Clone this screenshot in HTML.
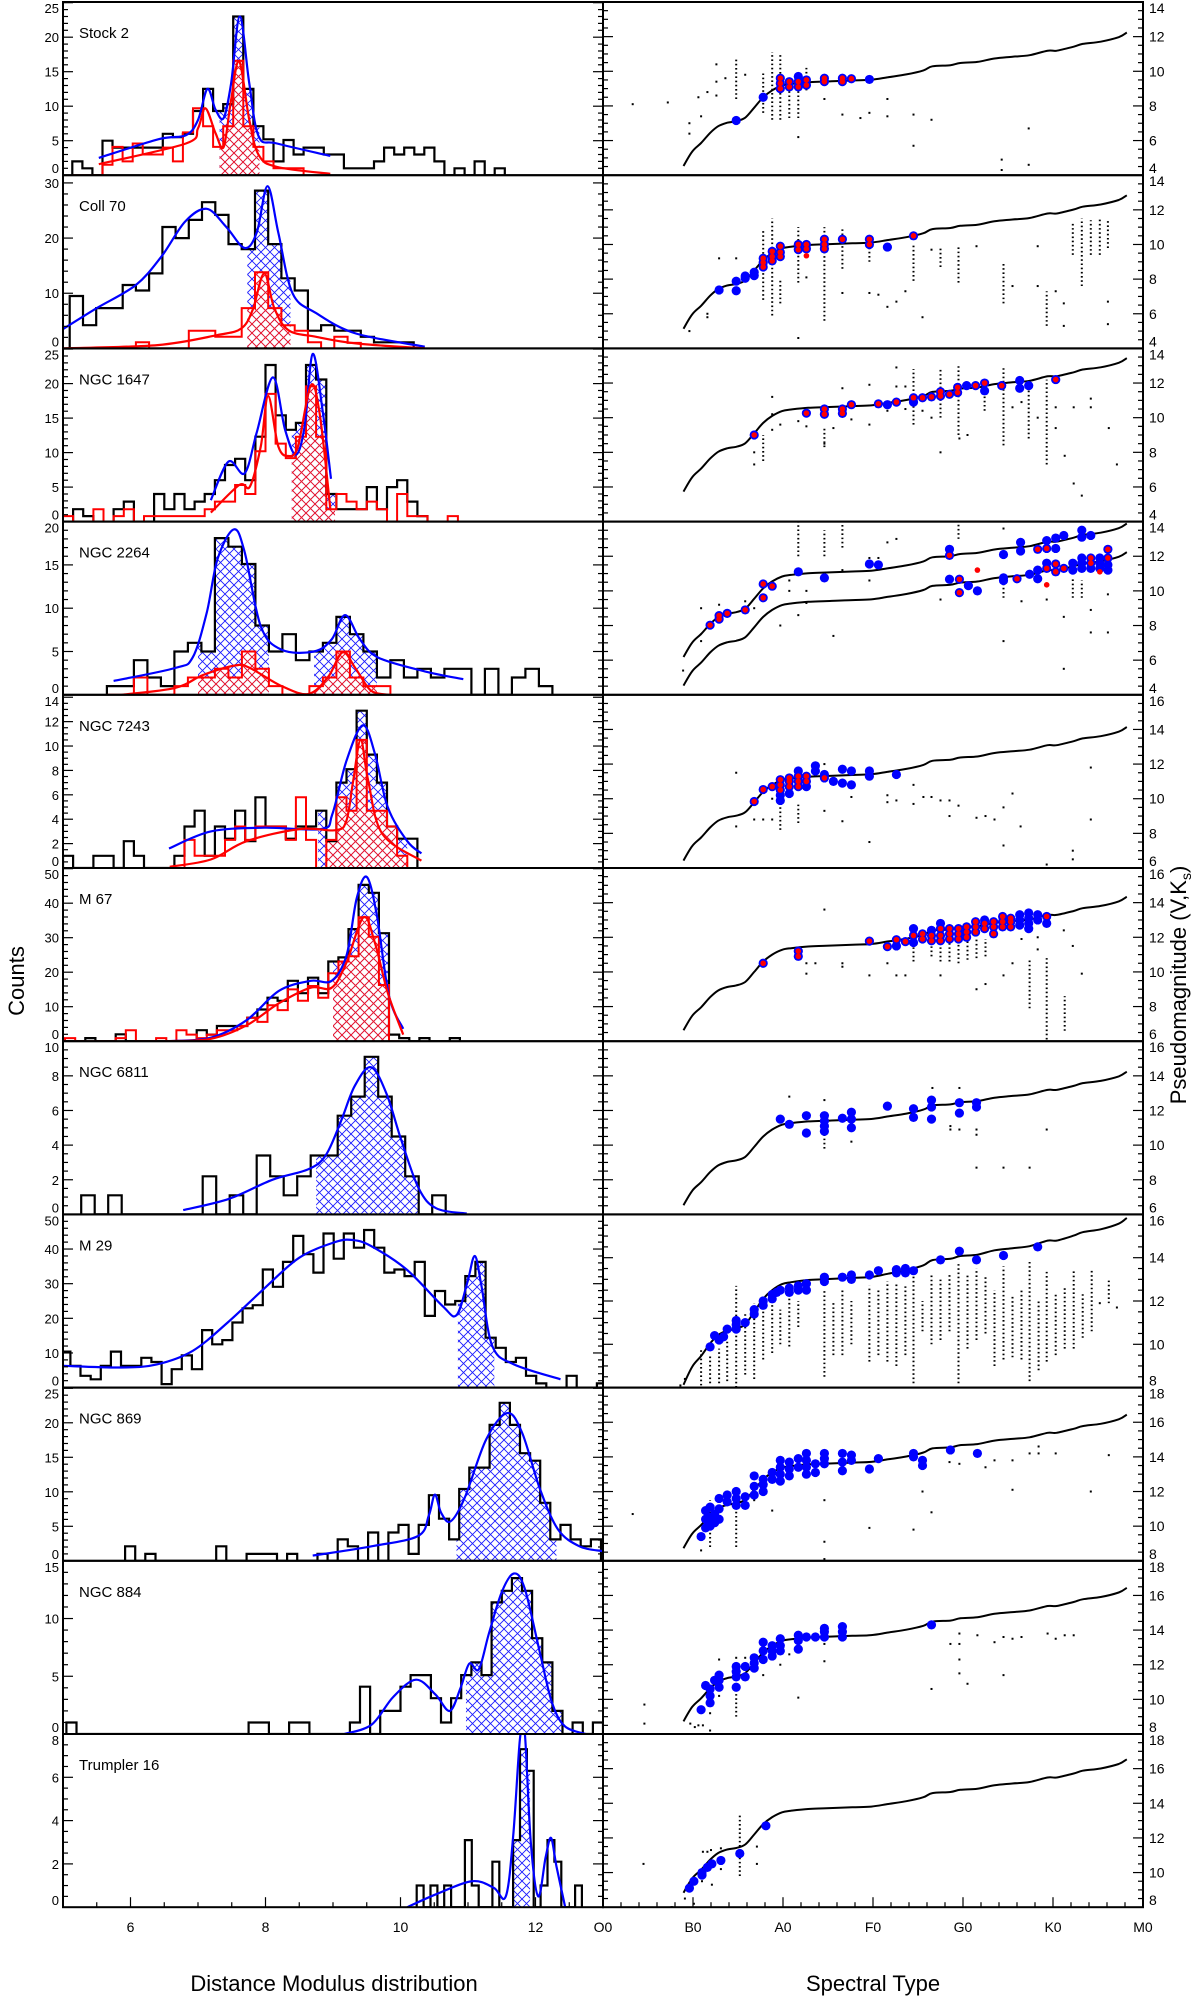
<!DOCTYPE html>
<html>
<head>
<meta charset="utf-8">
<style>
  html,body{margin:0;padding:0;background:#fff;}
  svg{display:block;font-family:"Liberation Sans",Arial,sans-serif;}
</style>
</head>
<body>
<svg id="fig" xmlns="http://www.w3.org/2000/svg" width="1200" height="1998" viewBox="0 0 1200 1998">
  <defs>
    <pattern id="hb" patternUnits="userSpaceOnUse" width="9" height="9">
      <path d="M0,0L9,9M9,0L0,9" stroke="#1a1aff" stroke-width="0.9" fill="none"/>
    </pattern>
    <pattern id="hr" patternUnits="userSpaceOnUse" width="9" height="9">
      <path d="M0,0L9,9M9,0L0,9" stroke="#ff1a1a" stroke-width="0.9" fill="none"/>
    </pattern>
  </defs>
  <rect x="0" y="0" width="1200" height="1998" fill="#fff"/>
  <text x="334" y="1991" font-size="22" text-anchor="middle">Distance Modulus distribution</text>
  <text x="873" y="1991" font-size="22" text-anchor="middle">Spectral Type</text>
  <text x="0" y="0" font-size="22" text-anchor="middle" transform="translate(24,981) rotate(-90)">Counts</text>
  <text x="0" y="0" font-size="22" text-anchor="middle" transform="translate(1186,985) rotate(-90)">Pseudomagnitude (V,K<tspan font-size="14" dy="5">s</tspan><tspan dy="-5">)</tspan></text>
</svg>
<script>
// ---------------- data ----------------
const clusterNames = ["Stock 2","Coll 70","NGC 1647","NGC 2264","NGC 7243","M 67","NGC 6811","M 29","NGC 869","NGC 884","Trumpler 16"];
const countMax = [25.1,31.4,25.1,20,14.2,50.2,10,50,25.1,15,8.0];
const countMajor = [5,10,5,5,2,10,2,10,5,5,2];
const countMinor = [1,2,1,1,0.5,2,0.5,2,1,1,0.5];
const histStart = [5.138,5.10,5.0,5.65,5.0,5.03,5.27,4.96,5.92,5.05,10.24];
const histWidth = [0.149,0.196,0.15,0.2,0.15,0.15,0.2,0.15,0.15,0.15,0.102];
const blackCounts = [
 [2,1,0,5,4,4,4,4,4,6,5.5,6,9.3,12.5,9.3,10.3,23,12.5,7.1,5.2,2,5.1,3,4,4,3,3,1,1,1,2,4,3,4,3,4,2,0,1,0,2,0,1],
 [9.5,4.2,7.3,7.3,11.5,10.5,13.6,22,20,23.3,26.5,24.2,18.9,18,28.6,18.9,12.7,10.5,3.2,4.2,3.2,3.2,2.1,1.1,1.1,1.1],
 [0,1.8,0.8,0,0,1.8,2.9,0,0,4,1.8,4,1.8,2.9,4,6,8.2,9.1,6,12.3,22.7,15.4,13.3,14.3,22.7,20.6,4,1.8,1.8,1.8,5,1.8,5,6,2.9,0.8,0],
 [1,1,4,2,1,5,6,5,18.1,17.1,15.1,8,5,7,4,5,6,9,7,5,2,4,2,3,2,3,3,0,3,0,2,3,1],
 [1,0,0,1,1,0,2.2,1,0,0,0,1,3.4,4.7,1,3.4,2.4,4.7,2.2,5.8,3.4,3.4,2.4,3.4,3.4,4.7,2.2,7,8.1,12.9,9.3,7,3.4,2.4,2.4],
 [0,0,0.9,0,0,2,0,0,0,0,0,0,0,3.2,1.9,4.4,4.4,4.4,6.8,9.2,12.6,11.7,17.5,13.9,18.4,13.9,23.1,24.3,32.5,45.3,43,31.3,1.9,0.9,0,0.9,0,0,0.9],
 [1.1,0,1.1,0,0,0,0,0,0,2.2,0,1.1,0,3.4,2.2,1.1,2.2,3.4,3.4,5.7,6.8,9.1,6.8,4.5,2.2,0,1.1],
 [10.4,6.3,3.4,2.4,6.3,10.4,6.3,6.3,8.6,7.4,1,5.3,9.3,5.3,16.6,12.5,13.7,18.8,22.9,23.8,34.1,29.1,36.3,43.8,38.5,33.2,44.5,37.2,44.5,40.4,45.5,40.4,33.2,34.1,32.2,36.3,20.7,27.9,24,25,32.2,36.3,14.4,11.5,7.4,8.6,3.4,1.2,0,0,3.4,0,0,1.2],
 [2.1,0,1,0,0,0,0,0,0,2.1,0,0,1,1,1,0,1,0,0,1,0,3.1,2.1,0,4.1,0,4.1,5.2,1,5.2,9.5,6.1,3.1,10.4,13.5,13.5,19.7,22.9,19.7,15.6,14.5,8.4,3.1,5.2,3.1,2.1,3.1],
 [1,0,0,0,0,0,0,0,0,0,0,0,0,0,0,0,0,0,1,1,0,0,1,1,0,0,0,0,1,4.1,0,2,2,4.1,5.1,5.1,3.1,1,3.1,5.1,6.2,5.1,11.4,12.4,13.5,12.4,8.3,6.2,2,0,1,0,1],
 [1,0,1,0,1,0,0,3.1,1,0,0,2.1,0,0,3.1,7.3,6.3,0,1,3.1,2.1,0,0,1]
];
const redCounts = [
 [0,0,0,1.5,4.1,2,4.6,3,3,4,2,6.2,9.7,7.1,4.1,7.1,16.6,7.1,4.1,2,1,1,1],
 [0,0,0,0,0,1.1,0,0,0,3.2,3.2,2.1,2.1,7.3,13.8,7.3,4.2,3.2,1.1,0,2.1,1],
 [0.8,0,0,1.8,0,0.8,1.8,0,0.8,0.8,0.8,0.8,0.8,0.8,1.8,2.9,2.9,5.3,4,10.2,18.5,11.3,9.2,12.3,19.6,12.3,1.8,4,2.9,1.8,2.9,1.8,0,4,0.8,0.8,0,0,0.8],
 [0,0,2,0,0,1,2,2,3,2,5,3,1,0,0,1,2,5,2,1,1],
 [0,0,0,0,0,0,0,0,0,0,0,0,2.3,1,1,1,2.3,3.4,2.3,3.4,3.4,3.4,2.3,5.8,2.3,0,2.3,5.8,4.7,10.5,4.7,4.7,3.4,1],
 [0.9,0,0,0,0,0.9,3.2,0,0,0.9,0,3.2,1.9,0.9,1.9,3.2,3.2,4.4,6.8,5.6,10.4,9,15,11.7,16,12.6,19.7,23.1,24.6,35.9,30.3,16.3,0],
 null,null,null,null,null
];
const hatchRanges = [[[7.32,7.91]],[[7.73,8.37]],[[8.39,9.03]],[[7.0,8.05],[8.72,9.65]],[[8.78,10.1]],[[9.0,9.83]],[[8.75,10.27]],[[10.85,11.39]],[[10.83,12.31]],[[10.97,12.4]],[[11.64,11.92]]];
const blueCurves = [
 [[5.53,2.5],[6.41,5.2],[6.82,5.8],[7.0,8],[7.14,12.5],[7.26,9.5],[7.38,8.3],[7.49,13.3],[7.62,23],[7.76,13.3],[7.9,5.6],[8.17,4.6],[8.96,2.8]],
 [[5.0,3.5],[5.5,7.3],[6.08,11.5],[6.46,16.7],[6.81,23],[7.13,25.3],[7.42,22],[7.69,18.2],[7.87,21],[8.03,29.4],[8.19,21],[8.4,10],[8.75,6.4],[9.34,2.7],[10.36,0.3]],
 [[7.19,3.1],[7.45,8.7],[7.69,7],[7.87,12.9],[8.11,20.9],[8.29,13.3],[8.45,9.7],[8.58,13.8],[8.7,24.3],[8.85,15.8],[8.97,6.2]],
 [[5.75,1.6],[6.66,3.1],[6.92,4.3],[7.13,9.5],[7.29,15.7],[7.53,19.1],[7.69,16.5],[7.93,7.9],[8.24,5.2],[8.72,5],[8.98,6.4],[9.18,9.2],[9.4,6.4],[9.67,4.3],[10.36,2.7],[10.93,1.8]],
 [[6.57,1.6],[7.19,3],[7.98,3.3],[8.83,3.2],[8.99,4.4],[9.2,8.8],[9.44,11.7],[9.62,9.4],[9.81,5],[10.1,2.2],[10.31,1.2]],
 [[6.55,0],[7.19,1],[7.72,6.1],[8.2,14.6],[8.67,17.5],[8.98,17.5],[9.2,24.8],[9.35,41.3],[9.5,47.6],[9.65,36.4],[9.83,13.1],[10.04,3.6]],
 [[6.78,0.25],[7.46,0.9],[8.1,2],[8.63,2.6],[8.89,3.4],[9.11,5.3],[9.32,7.4],[9.56,8.5],[9.79,7],[10.01,4.3],[10.27,1.5],[10.53,0.35],[10.98,0.05]],
 [[5.0,6.3],[5.86,5.8],[6.39,6.7],[6.92,10.6],[7.44,18.8],[7.97,28.4],[8.5,37.5],[9.03,42],[9.29,42.6],[9.56,40.9],[10.09,34.1],[10.62,23.6],[10.83,20.9],[10.99,30.3],[11.1,38],[11.2,29.3],[11.36,12],[11.68,6.7],[12.37,2.4]],
 [[8.7,0.75],[9.57,2.1],[10.26,3.6],[10.42,6.6],[10.51,9.6],[10.6,7],[10.74,5.7],[10.95,9.1],[11.27,17.6],[11.58,21.4],[11.8,18.6],[12.06,10.6],[12.33,4.6],[12.65,2.1],[12.99,1.4]],
 [[9.17,0],[9.57,0.8],[9.89,3.2],[10.23,4.7],[10.52,3.4],[10.73,2],[10.89,4],[11.02,6.1],[11.16,5.6],[11.31,8.7],[11.5,12.3],[11.68,13.9],[11.84,12.6],[12.06,7.2],[12.24,2.8],[12.43,0.7],[12.74,0]],
 [[10.1,0],[10.53,0.6],[11.06,1.2],[11.38,0.9],[11.56,0.5],[11.67,3.3],[11.77,7.8],[11.84,8.1],[11.93,3],[12.04,0.5],[12.15,2.3],[12.23,3.2],[12.31,1.9],[12.44,0]]
];
const redCurves = [
 [[5.53,1.6],[6.82,4.6],[7.0,6.8],[7.11,9.7],[7.26,6.1],[7.38,4.1],[7.49,10.9],[7.61,16.5],[7.76,8],[7.9,2.9],[8.17,1.2],[8.96,0.2]],
 [[5.0,0],[6.4,0.6],[7.28,2.4],[7.64,3.6],[7.81,7],[7.98,13.6],[8.13,7.3],[8.34,3.3],[8.75,2.1],[9.34,0.9],[10.36,0]],
 [[7.19,1.3],[7.61,5.3],[7.77,5.1],[7.93,10.9],[8.04,18.2],[8.19,10.9],[8.34,9.5],[8.48,10.9],[8.67,19.7],[8.8,15.8],[8.96,1.9]],
 [[5.87,0],[6.66,0.8],[7.08,2.3],[7.56,3.4],[7.77,3.1],[8.24,1],[8.64,0.1],[8.93,2.1],[9.14,4.9],[9.33,3.1],[9.56,0.5],[9.83,0]],
 [[6.58,0.1],[7.19,0.7],[7.72,2.2],[8.51,3.2],[9.04,3.1],[9.2,3.9],[9.3,7.2],[9.41,10.5],[9.52,7.2],[9.73,2.8],[10.31,0.6]],
 [[6.55,0],[7.19,0.7],[7.72,4.6],[8.2,11],[8.67,15.5],[8.98,15.5],[9.2,22.8],[9.45,35.9],[9.62,28.6],[9.81,14.1],[10.04,1.9]],
 null,null,null,null,null
];
const magRanges = [[4,14],[4,14],[4,14],[4,14],[6,16],[6,16],[6,16],[8,16],[8,18],[8,18],[8,18]];
const refCurveSp = [8.94,9.92,10.9,11.9,12.8,13.8,14.8,15.8,16.8,17.8,18.8,19.9,20.9,22.8,24.8,27.7,29.8,31.7,33.7,35.6,36.6,38.6,39.7,41.6,43.5,45.5,47.4,49.4,50.4,52.3,53.3,55.3,57.3,58.2];
const refCurveMag = [4.53,5.37,5.86,6.44,6.83,7.03,7.12,7.32,7.9,8.5,8.9,9.18,9.27,9.37,9.41,9.47,9.51,9.66,9.82,10.05,10.29,10.35,10.48,10.54,10.74,10.84,10.93,11.19,11.19,11.42,11.58,11.71,11.97,12.24];
const curveOffsets = [[0],[0.6],[1.2],[0,1.65],[1.9],[2.1],[2.0],[3.6],[4.2],[4.2],[4.3]];
const bluePoints = [
 [[14.8,7.16,0],[17.8,8.5,0],[19.7,9.0,1],[19.7,9.3,1],[19.7,9.6,1],[20.7,9.1,1],[20.7,9.4,1],[21.7,9.1,1],[21.7,9.4,1],[21.7,9.7,0],[22.6,9.2,1],[22.6,9.5,1],[24.6,9.4,1],[24.6,9.6,1],[26.6,9.4,1],[26.6,9.6,1],[27.6,9.57,1],[29.6,9.53,0]],
 [[12.9,7.37,0],[14.8,7.88,0],[14.8,7.33,0],[15.8,8.18,0],[15.8,8.05,0],[16.8,8.4,0],[16.8,8.2,0],[17.8,9.2,1],[17.8,8.7,1],[17.8,8.95,1],[18.8,9.6,1],[18.8,9.3,1],[18.8,9.05,1],[19.7,9.9,1],[19.7,9.55,1],[19.7,9.3,1],[21.7,10.0,1],[21.7,9.7,1],[22.6,10.0,1],[22.6,9.75,1],[24.6,10.3,1],[24.6,10.0,1],[24.6,9.75,1],[26.6,10.3,1],[29.6,10.3,1],[29.6,10.0,1],[31.6,9.85,0],[34.5,10.5,1]],
 [[16.8,9.0,1],[22.6,10.26,1],[24.6,10.5,1],[24.6,10.2,1],[26.6,10.5,1],[26.6,10.25,1],[27.6,10.75,1],[30.6,10.8,1],[31.6,10.75,0],[32.6,10.9,1],[34.5,11.15,1],[34.5,10.9,0],[35.5,11.15,1],[36.5,11.2,1],[37.5,11.5,1],[37.5,11.25,1],[38.5,11.35,1],[39.4,11.75,1],[39.4,11.45,1],[40.4,11.85,0],[41.4,11.85,1],[42.4,12.0,1],[42.4,11.55,0],[44.3,11.85,1],[46.3,12.15,0],[46.3,11.7,0],[47.3,11.85,0],[50.3,12.2,1]],
 [[11.9,8.02,1],[12.9,8.57,1],[12.9,8.37,1],[13.8,8.7,1],[15.8,8.9,1],[17.8,10.4,1],[17.8,9.6,1],[18.8,10.27,1],[21.7,11.1,0],[24.6,10.75,0],[29.6,11.55,0],[30.6,11.5,0],[38.5,12.4,0],[38.5,12.05,1],[38.5,10.67,0],[39.6,10.67,1],[39.6,9.9,1],[40.6,10.3,0],[41.6,10.0,0],[44.5,12.1,0],[44.5,10.6,0],[44.5,10.75,0],[46,10.7,1],[46.4,12.8,0],[46.4,12.3,0],[47.4,10.96,0],[48.3,12.4,1],[48.3,11.2,0],[48.3,10.7,0],[49.3,12.9,0],[49.3,12.45,1],[49.3,11.3,1],[49.3,11.6,0],[50.3,13.05,0],[50.3,12.45,0],[50.3,11.55,1],[50.3,11.1,1],[51.2,13.2,0],[51.2,11.3,1],[52.2,11.2,0],[52.2,11.6,0],[53.2,13.1,0],[53.2,13.5,0],[53.2,11.3,0],[53.2,11.6,0],[53.2,11.9,0],[54.2,13.2,0],[54.2,11.3,0],[54.2,11.6,1],[54.2,11.9,1],[55.2,11.3,0],[55.2,11.6,0],[55.2,11.9,0],[56.1,11.2,0],[56.1,11.5,0],[56.1,11.9,1],[56.1,12.4,1]],
 [[16.8,9.84,1],[17.8,10.53,1],[18.8,10.7,1],[19.7,9.9,0],[19.7,10.2,0],[19.7,10.5,1],[19.7,10.8,1],[19.7,11.1,1],[20.7,10.3,0],[20.7,10.7,1],[20.7,11.0,1],[20.7,11.2,1],[21.7,10.7,1],[21.7,11.0,1],[21.7,11.3,1],[21.7,11.6,0],[22.6,10.7,0],[22.6,11.0,1],[22.6,11.3,1],[23.6,11.6,0],[23.6,11.9,0],[24.6,11.2,1],[24.6,11.4,0],[25.6,11.0,0],[26.6,11.7,0],[26.6,10.9,0],[27.6,11.6,0],[27.6,10.8,0],[29.6,11.6,0],[29.6,11.3,0],[32.6,11.4,0]],
 [[17.8,10.5,1],[21.7,11.2,1],[21.7,10.9,1],[29.6,11.78,1],[31.6,11.46,1],[32.6,11.86,1],[32.6,11.5,0],[33.6,11.75,1],[34.5,11.7,0],[34.5,12.1,1],[34.5,12.5,0],[35.5,11.9,1],[35.5,12.2,1],[36.5,11.8,1],[36.5,12.1,1],[36.5,12.4,0],[37.5,11.8,1],[37.5,12.1,1],[37.5,12.5,1],[37.5,12.8,0],[38.5,11.9,1],[38.5,12.2,1],[38.5,12.5,1],[39.5,11.9,1],[39.5,12.2,1],[39.5,12.5,1],[40.4,12.0,1],[40.4,12.3,1],[40.4,12.6,1],[41.4,12.3,1],[41.4,12.6,1],[41.4,12.9,1],[42.4,12.5,1],[42.4,12.8,1],[42.4,13.0,0],[43.4,12.2,1],[43.4,12.6,1],[43.4,12.9,1],[44.4,12.6,1],[44.4,12.9,1],[44.4,13.2,1],[45.3,12.6,1],[45.3,12.9,1],[45.3,13.1,1],[46.3,12.7,0],[46.3,13.0,0],[46.3,13.3,0],[47.3,12.5,0],[47.3,12.8,0],[47.3,13.1,0],[47.3,13.4,0],[48.3,13.0,0],[48.3,13.3,0],[49.3,12.8,0],[49.3,13.2,1]],
 [[19.7,11.5],[20.7,11.2],[22.6,11.7],[22.6,10.7],[24.6,11.7],[24.6,11.4],[24.6,11.1],[24.6,10.8],[26.6,11.55],[27.6,11.9],[27.6,11.5],[27.6,11.0],[31.6,12.25],[34.5,12.1],[34.5,11.6],[36.5,12.6],[36.5,12.2],[36.5,11.5],[39.6,12.45],[39.6,11.85],[41.5,12.45],[41.5,12.2]],
 [[11.9,9.88],[12.4,10.4],[12.9,10.2],[13.4,10.35],[13.8,10.7],[14.8,10.7],[14.8,10.9],[14.8,11.1],[15.8,11.0],[16.8,11.4],[16.8,11.6],[17.8,12.0],[17.8,11.8],[18.8,12.3],[18.8,12.1],[19.3,12.4],[19.7,12.5],[20.7,12.6],[20.7,12.4],[21.7,12.7],[21.7,12.5],[22.6,12.8],[22.6,12.5],[24.6,12.9],[24.6,13.1],[26.6,13.1],[27.6,13.0],[27.6,13.2],[29.6,13.2],[30.6,13.4],[32.6,13.3],[32.6,13.45],[33.6,13.3],[33.6,13.5],[34.5,13.4],[37.5,13.9],[39.6,14.3],[41.5,13.9],[44.5,14.1],[48.3,14.5]],
 [[10.9,9.4],[11.4,9.9],[11.4,10.4],[11.4,10.9],[11.9,10.0],[11.9,10.5],[11.9,11.1],[12.4,10.2],[12.4,10.7],[12.9,10.4],[12.9,11.0],[12.9,11.6],[13.8,11.4],[13.8,11.8],[14.8,11.2],[14.8,11.6],[14.8,12.0],[15.8,11.2],[15.8,11.7],[16.8,11.8],[16.8,12.3],[16.8,12.9],[17.8,12.0],[17.8,12.4],[17.8,12.7],[18.8,12.7],[18.8,13.1],[19.7,12.6],[19.7,13.0],[19.7,13.4],[19.7,13.8],[20.7,12.9],[20.7,13.3],[20.7,13.7],[21.7,13.4],[21.7,13.9],[22.6,13.0],[22.6,13.4],[22.6,13.8],[22.6,14.2],[23.6,13.1],[23.6,13.6],[24.6,13.6],[24.6,13.9],[24.6,14.2],[26.6,13.2],[26.6,13.7],[26.6,14.2],[27.6,13.8],[27.6,14.1],[29.6,13.3],[30.6,13.9],[34.5,14.0],[34.5,14.2],[35.5,13.5],[35.5,13.8],[38.6,14.4],[41.6,14.2]],
 [[10.9,9.4],[11.4,10.8],[11.9,9.8],[11.9,10.2],[11.9,10.6],[12.4,11.1],[12.9,10.7],[12.9,11.1],[12.9,11.4],[14.8,10.7],[14.8,11.3],[14.8,11.6],[14.8,11.9],[15.8,11.3],[15.8,11.9],[16.8,11.8],[16.8,12.1],[16.8,12.4],[17.8,12.3],[17.8,12.8],[17.8,13.3],[18.8,12.5],[18.8,12.8],[18.8,13.1],[19.7,12.8],[19.7,13.1],[19.7,13.5],[21.7,12.9],[21.7,13.4],[21.7,13.7],[22.6,13.6],[23.6,13.6],[24.6,13.6],[24.6,13.9],[24.6,14.1],[26.6,13.6],[26.6,13.9],[26.6,14.2],[36.5,14.3]],
 [[9.6,9.1],[10.1,9.5],[11.0,10.0],[11.0,9.85],[11.6,10.3],[12.1,10.5],[13.1,10.7],[15.2,11.1],[18.1,12.7]]
];
const redOnlyPoints = [[],[[22.6,9.35]],[],[[41.6,11.2],[49.3,10.35],[55.2,11.1]],[],[],[],[],[],[],[]];
const dotColumns = [
 [[14.8,8.4,10.8],[17.8,7.6,10.0],[18.8,7.2,11.1],[19.7,7.2,11.0],[20.7,7.3,9.0],[21.7,7.3,9.5],[22.6,8.9,10.2]],
 [[17.8,6.8,10.8],[18.8,5.9,11.5],[19.7,6.6,8.0],[21.7,7.8,11.0],[24.6,5.6,11.0],[26.6,8.6,11.0],[29.6,9.0,10.4],[34.5,7.9,10.0],[37.5,8.7,9.8],[39.5,7.8,9.9],[44.5,6.6,9.0],[49.3,5.3,7.3],[52.2,9.4,11.2],[53.2,7.6,11.5],[54.2,9.4,11.4],[55.2,9.4,11.5],[56.1,9.8,11.5]],
 [[17.8,7.5,9.0],[24.6,8.3,9.4],[34.5,9.6,12.8],[37.5,10.0,12.8],[39.5,9.0,13.0],[42.4,10.4,12.3],[44.5,8.4,12.9],[47.3,8.8,11.8],[49.3,7.3,12.2]],
 [[21.7,12.0,14.0],[39.5,13.0,14.0],[24.6,12.0,13.5],[26.6,12.5,14.0],[44.5,9.6,10.6],[52.2,9.6,10.7],[53.2,9.6,10.6]],
 [[19.7,8.2,10.4],[21.7,8.6,9.7]],
 [[34.5,10.6,12.5],[36.5,10.9,12.4],[37.5,10.6,12.4],[38.5,10.6,12.3],[39.5,10.5,12.2],[40.5,10.7,12.0],[41.5,10.8,12.0],[42.5,10.9,11.9],[47.4,7.9,10.8],[49.3,6.1,10.9],[51.3,6.6,8.6]],
 [[24.6,9.8,11.3]],
 [[10.9,8.1,9.8],[11.9,8.2,9.5],[12.9,8.2,9.8],[13.8,8.3,10.2],[14.8,8.0,12.7],[15.8,8.6,11.5],[16.8,8.4,11.9],[17.8,9.3,12.0],[18.8,9.6,12.4],[19.7,10.0,11.6],[20.7,9.9,12.2],[21.7,10.8,12.0],[24.6,8.5,12.5],[25.6,9.5,12.0],[26.6,9.5,12.6],[27.6,10.0,12.0],[29.6,9.2,12.7],[30.6,9.5,12.6],[31.6,9.2,12.9],[32.6,9.0,12.8],[33.6,9.5,12.7],[34.5,8.2,13.6],[35.5,10.6,12.0],[36.5,10.0,13.2],[37.5,10.2,13.1],[38.5,10.6,13.2],[39.5,8.2,13.8],[40.5,9.8,13.2],[41.5,10.2,13.5],[42.5,10.5,13.2],[43.5,9.0,12.5],[44.5,9.3,13.6],[45.5,9.4,12.3],[46.5,9.3,12.5],[47.4,8.3,13.8],[48.4,8.8,12.0],[49.3,9.2,13.4],[50.3,9.5,12.4],[51.3,9.8,12.6],[52.3,9.8,13.4],[53.3,10.3,12.4],[54.3,10.6,13.4],[56.2,11.9,13.0]],
 [[14.8,8.8,11.9],[11.9,8.8,11.5]],
 [[14.8,9.0,10.5]],
 [[15.2,9.8,13.4]]
];
const dotSingles = [
 [[3.3,8.1],[7.2,8.2],[9.6,6.4],[9.6,7.0],[10.6,8.5],[10.9,7.4],[11.6,8.8],[12.6,9.4],[12.6,8.6],[12.6,10.4],[13.6,9.6],[15.8,9.8],[21.7,6.2],[24.6,8.4],[26.6,7.5],[28.6,7.3],[29.6,7.6],[31.6,8.4],[31.6,7.4],[34.5,7.5],[34.5,5.7],[36.5,7.2],[44.3,4.9],[44.3,4.3],[47.3,6.7],[47.3,4.6]],
 [[9.6,5.0],[11.6,5.8],[11.6,6.0],[12.9,9.2],[14.8,9.2],[21.7,4.6],[22.6,8.1],[26.6,7.2],[29.6,7.2],[30.6,7.1],[31.6,6.4],[32.6,6.7],[33.6,7.3],[35.5,5.8],[36.5,9.7],[41.5,9.9],[45.5,7.6],[48.3,7.6],[50.3,7.3],[51.2,6.6],[51.2,5.3],[56.1,6.7],[56.1,5.4],[48.3,9.9]],
 [[16.8,8.0],[16.8,7.3],[18.8,9.3],[18.8,10.2],[18.8,11.2],[19.7,9.6],[21.7,9.8],[22.6,9.5],[24.6,8.5],[25.6,9.4],[26.6,10.2],[26.6,11.7],[27.6,9.9],[29.6,9.6],[29.6,11.9],[31.6,10.4],[32.6,12.9],[32.6,11.8],[33.6,10.5],[33.6,11.8],[35.5,10.4],[36.5,10.0],[37.5,8.0],[39.6,8.8],[40.5,9.0],[45.5,10.6],[46.5,10.9],[48.3,10.0],[50.3,10.6],[50.3,9.4],[51.3,7.8],[52.3,10.6],[52.3,6.2],[53.2,5.5],[54.2,11.1],[54.2,10.6],[56.2,9.4],[57.1,7.3]],
 [[8.9,5.4],[10.9,9.0],[10.9,7.1],[12.9,9.2],[15.8,9.4],[16.8,9.0],[18.8,10.2],[19.7,8.0],[20.7,10.0],[20.7,10.6],[22.6,10.0],[21.7,8.6],[22.6,9.3],[25.6,7.4],[26.6,11.2],[29.6,10.6],[29.6,11.9],[30.6,11.9],[31.6,12.8],[32.6,13.0],[37.5,9.5],[44.5,7.1],[44.5,13.6],[46.5,9.4],[49.3,9.5],[51.2,5.5],[51.2,8.5],[54.2,8.9],[54.2,7.6],[56.1,7.6],[56.1,9.8]],
 [[14.8,11.5],[14.8,8.4],[16.8,8.8],[17.8,8.8],[18.8,8.8],[18.8,10.0],[24.6,9.3],[24.6,12.0],[26.6,8.7],[27.6,10.1],[29.6,7.5],[31.6,10.2],[31.6,9.8],[32.6,9.9],[34.5,9.7],[34.5,10.8],[35.6,10.1],[36.5,10.1],[37.5,9.9],[38.5,9.9],[38.5,9.0],[39.5,9.6],[41.5,8.9],[42.5,9.0],[43.5,8.8],[44.5,9.5],[44.5,7.3],[45.5,10.3],[46.4,8.4],[47.4,6.0],[49.3,6.2],[52.2,6.5],[52.2,7.0],[54.2,11.8],[54.2,8.8]],
 [[24.6,13.6],[22.6,10.5],[22.6,9.9],[23.6,10.5],[26.6,10.5],[26.6,10.3],[29.6,9.8],[31.6,10.5],[32.6,9.8],[33.6,9.8],[37.5,9.8],[41.5,9.0],[42.5,9.3],[44.5,9.8],[45.5,10.5],[46.5,11.9],[48.3,11.3],[48.3,12.0],[52.2,11.5],[53.2,9.9],[51.2,12.4]],
 [[20.7,12.8],[24.6,12.6],[27.6,10.2],[38.6,11.1],[38.6,10.9],[39.6,13.3],[39.6,10.9],[41.5,10.6],[41.5,10.9],[41.5,8.7],[44.5,8.7],[47.4,8.7],[49.3,10.9],[36.6,13.3]],
 [[9.1,8.4],[8.6,8.1],[57.1,11.7],[55.2,11.9]],
 [[10.9,8.6],[11.4,9.9],[16.8,11.5],[18.8,12.6],[18.8,10.9],[20.7,13.3],[24.6,11.5],[24.6,9.1],[24.6,8.1],[29.6,9.9],[34.5,9.8],[35.5,12.0],[36.5,10.8],[38.5,13.7],[39.6,13.6],[42.5,13.4],[43.5,13.8],[45.5,13.8],[47.4,14.2],[48.4,14.6],[48.4,14.2],[50.3,14.2],[54.2,12.0],[56.2,14.1],[3.3,10.7],[45.5,12.1]],
 [[4.6,9.7],[4.6,8.6],[5.1,8.0],[9.7,8.6],[10.2,8.4],[10.6,8.5],[11.1,8.5],[11.9,8.2],[11.9,9.2],[12.9,10.2],[12.9,12.3],[14.8,12.4],[15.8,12.4],[17.8,11.4],[19.7,12.0],[20.7,12.6],[21.7,10.1],[24.6,12.2],[24.6,13.2],[36.5,10.6],[38.6,13.2],[39.6,13.8],[39.6,13.2],[39.6,12.3],[39.6,11.5],[40.5,10.9],[41.6,13.7],[43.5,13.3],[44.5,13.6],[44.5,11.4],[45.5,13.5],[46.5,13.6],[49.4,13.8],[50.3,13.5],[51.3,13.7],[52.3,13.7]],
 [[4.5,10.5],[7.6,8.0],[7.7,8.0],[9.1,8.5],[10.1,8.2],[11.1,11.2],[11.6,11.2],[12.0,11.3],[12.1,9.3],[13.1,10.2],[13.1,11.4],[17.1,10.5],[17.1,11.5],[11.0,9.5]]
];
const distTicks = [6,8,10,12];
const spectralLabels = ["O0","B0","A0","F0","G0","K0","M0"];

// ---------------- geometry ----------------
const NS = "http://www.w3.org/2000/svg";
const svg = document.getElementById("fig");
const L0 = 63, L1 = 603, R1 = 1143, T0 = 2, PH = 173.2, DMIN = 5, DMAX = 13;
function panelTop(p){ return T0 + p*PH; }
function xDist(v){ return L0 + (v-DMIN)/(DMAX-DMIN)*(L1-L0); }
function xSpec(s){ return L1 + s/60*(R1-L1); }
function yCount(p,c){ return panelTop(p)+PH - c/countMax[p]*PH; }
function yMag(p,m){ const r = magRanges[p]; return panelTop(p)+PH - (m-r[0])/(r[1]-r[0])*PH; }
function mk(tag, attrs, parent){
  const el = document.createElementNS(NS, tag);
  for (const k in attrs) el.setAttribute(k, attrs[k]);
  (parent||svg).appendChild(el);
  return el;
}
function smooth(pts){
  let d = "M"+pts[0][0].toFixed(1)+","+pts[0][1].toFixed(1);
  for (let i=0;i<pts.length-1;i++){
    const p0 = pts[i-1]||pts[i], p1 = pts[i], p2 = pts[i+1], p3 = pts[i+2]||p2;
    const c1x = p1[0]+(p2[0]-p0[0])/6, c1y = p1[1]+(p2[1]-p0[1])/6;
    const c2x = p2[0]-(p3[0]-p1[0])/6, c2y = p2[1]-(p3[1]-p1[1])/6;
    d += " C"+c1x.toFixed(1)+","+c1y.toFixed(1)+" "+c2x.toFixed(1)+","+c2y.toFixed(1)+" "+p2[0].toFixed(1)+","+p2[1].toFixed(1);
  }
  return d;
}
function histPath(p, counts, closed){
  const yb = yCount(p,0);
  let x = xDist(histStart[p]);
  let d = "M"+x.toFixed(1)+","+yb.toFixed(1);
  counts.forEach((c,i)=>{
    const xa = xDist(histStart[p]+i*histWidth[p]);
    const xb = xDist(histStart[p]+(i+1)*histWidth[p]);
    const y = yCount(p,c);
    d += " L"+xa.toFixed(1)+","+y.toFixed(1)+" L"+xb.toFixed(1)+","+y.toFixed(1);
    x = xb;
  });
  d += " L"+x.toFixed(1)+","+yb.toFixed(1);
  if (closed) d += " Z";
  return d;
}
function clampLabelY(p, y){
  const top = panelTop(p);
  return Math.max(top+6, Math.min(top+PH-7, y));
}

const defs = svg.querySelector("defs");

for (let p=0; p<clusterNames.length; p++){
  const top = panelTop(p);
  const cpL = mk("clipPath", {id:"cl"+p}, defs);
  mk("rect", {x:L0, y:top, width:L1-L0, height:PH}, cpL);
  const cpR = mk("clipPath", {id:"cr"+p}, defs);
  mk("rect", {x:L1, y:top, width:R1-L1, height:PH}, cpR);

  // ---------- left panel ----------
  const gL = mk("g", {"clip-path":"url(#cl"+p+")"});
  
  
  hatchRanges[p].forEach((hr, k)=>{
    const cpH = mk("clipPath", {id:"ch"+p+"_"+k}, defs);
    mk("rect", {x:xDist(hr[0]), y:top, width:xDist(hr[1])-xDist(hr[0]), height:PH}, cpH);
    const hb = mk("path", {d:histPath(p, blackCounts[p], true), fill:"url(#hb)", stroke:"none", "clip-path":"url(#ch"+p+"_"+k+")"}, gL);
    
    
    if (redCounts[p]){
      const hrp = mk("path", {d:histPath(p, redCounts[p], true), fill:"url(#hr)", stroke:"none", "clip-path":"url(#ch"+p+"_"+k+")"}, gL);
      
      
    }
  });
  const hBlack = mk("path", {d:histPath(p, blackCounts[p], false), fill:"none", stroke:"#000", "stroke-width":2.2}, gL);
  
  
  if (redCounts[p]){
    const hRed = mk("path", {d:histPath(p, redCounts[p], false), fill:"none", stroke:"#ff0000", "stroke-width":2}, gL);
    
    
  }
  const bpts = blueCurves[p].map(q=>[xDist(q[0]), yCount(p,q[1])]);
  const cBlue = mk("path", {d:smooth(bpts), fill:"none", stroke:"#0000ff", "stroke-width":2.2}, gL);
  
  
  if (redCurves[p]){
    const rpts = redCurves[p].map(q=>[xDist(q[0]), yCount(p,q[1])]);
    const cRed = mk("path", {d:smooth(rpts), fill:"none", stroke:"#ff0000", "stroke-width":2.2}, gL);
    
    
  }
  const nm = mk("text", {x:79, y:top+36, "font-size":15});
  nm.textContent = clusterNames[p];
  
  

  for (let c=0; c<=countMax[p]+1e-6; c+=countMinor[p]){
    const y = yCount(p,c);
    const isMaj = Math.abs(c/countMajor[p]-Math.round(c/countMajor[p]))<1e-6;
    const len = isMaj?10:5;
    mk("line", {x1:L0, y1:y, x2:L0+len, y2:y, stroke:"#000", "stroke-width":1.2});
    mk("line", {x1:L1, y1:y, x2:L1-len, y2:y, stroke:"#000", "stroke-width":1.2});
    if (isMaj){
      const t = mk("text", {x:59, y:clampLabelY(p,y)+5, "font-size":13, "text-anchor":"end"});
      t.textContent = String(Math.round(c));
      
      
    }
  }

  // ---------- right panel ----------
  const gR = mk("g", {"clip-path":"url(#cr"+p+")"});
  
  
  dotColumns[p].forEach(col=>{
    const ln = mk("line", {x1:xSpec(col[0]), y1:yMag(p,col[1]), x2:xSpec(col[0]), y2:yMag(p,col[2]), stroke:"#000", "stroke-width":2, "stroke-dasharray":"1.6,2.6"}, gR);
    
    
  });
  dotSingles[p].forEach(s=>{
    const r = mk("rect", {x:xSpec(s[0])-1, y:yMag(p,s[1])-1, width:2, height:2, fill:"#000"}, gR);
    
    
  });
  curveOffsets[p].forEach(off=>{
    const pts = refCurveSp.map((s,i)=>[xSpec(s), yMag(p, refCurveMag[i]+off)]);
    const rc = mk("path", {d:smooth(pts), fill:"none", stroke:"#000", "stroke-width":2}, gR);
    
    
  });
  bluePoints[p].forEach(b=>{
    const c = mk("circle", {cx:xSpec(b[0]), cy:yMag(p,b[1]), r:4.6, fill:"#0000ff"}, gR);
    
    
  });
  bluePoints[p].forEach(b=>{
    if (b[2]){
      const c = mk("circle", {cx:xSpec(b[0]), cy:yMag(p,b[1]), r:2.8, fill:"#ff0000"}, gR);
      
      
    }
  });
  redOnlyPoints[p].forEach(b=>{
    const c = mk("circle", {cx:xSpec(b[0]), cy:yMag(p,b[1]), r:2.8, fill:"#ff0000"}, gR);
    
    
  });

  const mr = magRanges[p];
  for (let m=mr[0]; m<=mr[1]+1e-6; m+=0.5){
    const y = yMag(p,m);
    const isMaj = Math.abs(m/2-Math.round(m/2))<1e-6;
    const len = isMaj?10:5;
    mk("line", {x1:R1, y1:y, x2:R1-len, y2:y, stroke:"#000", "stroke-width":1.2});
    mk("line", {x1:L1, y1:y, x2:L1+len, y2:y, stroke:"#000", "stroke-width":1.2});
    if (isMaj){
      const t = mk("text", {x:1149, y:clampLabelY(p,y)+5, "font-size":14});
      t.textContent = String(Math.round(m));
      
      
    }
  }

  const fL = mk("rect", {x:L0, y:top, width:L1-L0, height:PH, fill:"none", stroke:"#000", "stroke-width":2});
  
  
  const fR = mk("rect", {x:L1, y:top, width:R1-L1, height:PH, fill:"none", stroke:"#000", "stroke-width":2});
  
  
}

const yBot = panelTop(clusterNames.length);
for (let v=DMIN; v<=DMAX+1e-6; v+=0.5){
  const x = xDist(v);
  const maj = Math.abs(v/2-Math.round(v/2))<1e-6;
  mk("line", {x1:x, y1:yBot, x2:x, y2:yBot-(maj?10:5), stroke:"#000", "stroke-width":1.2});
}
distTicks.forEach(v=>{
  const t = mk("text", {x:xDist(v), y:yBot+25, "font-size":14, "text-anchor":"middle"});
  t.textContent = String(v);
  
  
});
for (let s=0; s<=60; s+=2){
  const x = xSpec(s);
  mk("line", {x1:x, y1:yBot, x2:x, y2:yBot-(s%10===0?10:5), stroke:"#000", "stroke-width":1.2});
}
spectralLabels.forEach((lab,i)=>{
  const t = mk("text", {x:xSpec(i*10), y:yBot+25, "font-size":14, "text-anchor":"middle"});
  t.textContent = lab;
  
  
});
</script>
</body>
</html>
